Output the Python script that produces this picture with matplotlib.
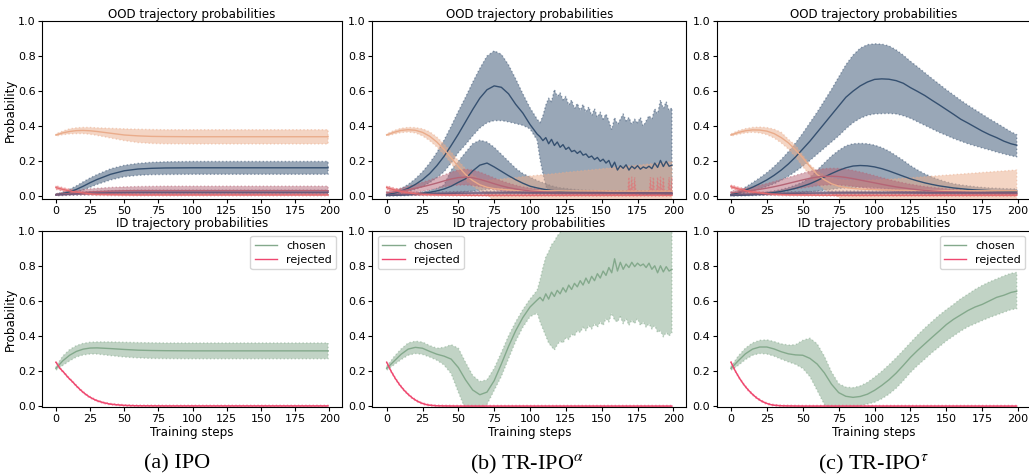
import matplotlib
matplotlib.use('Agg')
import matplotlib.pyplot as plt

plt.rcParams['font.family'] = ['DejaVu Sans']
plt.rcParams['mathtext.fontset'] = 'stix'

# ---------------- x grids (training steps) ----------------
XA = [0, 5, 10, 15, 20, 25, 30, 40, 50, 60, 70, 80, 100, 125, 150, 175, 199]
XC = [0, 5, 10, 15, 20, 25, 30, 35, 40, 45, 50, 55, 60, 65, 70, 75, 80, 85, 90, 95, 100,
      105, 110, 115, 120, 125, 130, 135, 140, 145, 150, 155, 160, 165, 170, 175, 180, 185, 190, 195, 199]
XS = [0, 5, 10, 15, 20, 25, 30, 40, 50, 60, 80, 100, 125, 150, 175, 199]
XB = [0, 5, 10, 15, 20, 25, 30, 35, 40, 45, 50, 55, 60, 65, 70, 75, 80, 85, 90, 95, 100, 105,
      107, 109, 111, 113, 115, 117, 119, 121, 123, 125, 127, 129, 131, 133, 135, 137, 139, 141, 143,
      145, 147, 149, 151, 153, 155, 157, 159, 161, 163, 165, 167, 169, 171, 173, 175, 177, 179, 181,
      183, 185, 187, 189, 191, 193, 195, 197, 199]
XR = [0, 3, 6, 9, 12, 15, 18, 21, 24, 27, 30, 35, 40, 50, 60, 80, 199]

# ---------------- (a) IPO : OOD ----------------
a_peach_mean = [0.350, 0.362, 0.370, 0.375, 0.376, 0.374, 0.370, 0.360, 0.350, 0.345, 0.342, 0.341, 0.340, 0.340, 0.340, 0.340, 0.340]
a_peach_hi = [0.356, 0.372, 0.385, 0.391, 0.393, 0.393, 0.391, 0.388, 0.385, 0.383, 0.381, 0.380, 0.380, 0.380, 0.380, 0.380, 0.380]
a_peach_lo = [0.344, 0.352, 0.356, 0.358, 0.358, 0.354, 0.348, 0.333, 0.318, 0.307, 0.302, 0.300, 0.299, 0.299, 0.299, 0.299, 0.299]
a_blue_mean = [0.010, 0.016, 0.026, 0.040, 0.058, 0.078, 0.096, 0.126, 0.146, 0.156, 0.160, 0.162, 0.163, 0.163, 0.163, 0.163, 0.163]
a_blue_hi = [0.014, 0.024, 0.040, 0.060, 0.083, 0.105, 0.124, 0.157, 0.177, 0.188, 0.194, 0.197, 0.199, 0.199, 0.199, 0.199, 0.199]
a_blue_lo = [0.006, 0.010, 0.016, 0.024, 0.036, 0.052, 0.068, 0.094, 0.112, 0.120, 0.124, 0.125, 0.126, 0.126, 0.126, 0.126, 0.126]
a_mauve_mean = [0.010, 0.013, 0.016, 0.019, 0.022, 0.025, 0.027, 0.030, 0.032, 0.033, 0.033, 0.033, 0.033, 0.033, 0.033, 0.033, 0.033]
a_mauve_hi = [0.015, 0.022, 0.028, 0.034, 0.039, 0.043, 0.046, 0.051, 0.054, 0.056, 0.057, 0.058, 0.058, 0.058, 0.058, 0.058, 0.058]
a_mauve_lo = [0.005, 0.006, 0.007, 0.008, 0.009, 0.010, 0.011, 0.012, 0.012, 0.012, 0.012, 0.012, 0.012, 0.012, 0.012, 0.012, 0.012]
a_purple_mean = [0.008, 0.010, 0.012, 0.014, 0.016, 0.018, 0.019, 0.021, 0.022, 0.023, 0.023, 0.023, 0.023, 0.023, 0.023, 0.023, 0.023]
a_purple_hi = [0.012, 0.015, 0.018, 0.021, 0.024, 0.027, 0.029, 0.032, 0.034, 0.035, 0.035, 0.035, 0.035, 0.035, 0.035, 0.035, 0.035]
a_purple_lo = [0.004, 0.005, 0.006, 0.007, 0.008, 0.009, 0.010, 0.011, 0.011, 0.011, 0.011, 0.011, 0.011, 0.011, 0.011, 0.011, 0.011]
a_red_mean = [0.050, 0.040, 0.031, 0.024, 0.019, 0.015, 0.012, 0.010, 0.009, 0.008, 0.008, 0.008, 0.008, 0.008, 0.008, 0.008, 0.008]
a_red_hi = [0.060, 0.050, 0.041, 0.033, 0.027, 0.023, 0.020, 0.017, 0.015, 0.014, 0.014, 0.014, 0.014, 0.014, 0.014, 0.014, 0.014]
a_red_lo = [0.040, 0.030, 0.021, 0.015, 0.011, 0.008, 0.005, 0.004, 0.003, 0.003, 0.003, 0.003, 0.003, 0.003, 0.003, 0.003, 0.003]

# ---------------- (a) IPO : ID ----------------
a_chosen_mean = [0.215, 0.258, 0.290, 0.312, 0.325, 0.331, 0.332, 0.328, 0.323, 0.319, 0.317, 0.316, 0.315, 0.315, 0.315, 0.315, 0.315]
a_chosen_hi = [0.225, 0.285, 0.322, 0.345, 0.358, 0.364, 0.366, 0.366, 0.364, 0.362, 0.361, 0.360, 0.360, 0.360, 0.360, 0.360, 0.360]
a_chosen_lo = [0.205, 0.232, 0.258, 0.280, 0.292, 0.297, 0.297, 0.288, 0.280, 0.275, 0.272, 0.271, 0.270, 0.270, 0.270, 0.270, 0.270]
a_rej_mean = [0.250, 0.215, 0.190, 0.163, 0.140, 0.115, 0.092, 0.072, 0.055, 0.042, 0.031, 0.019, 0.011, 0.004, 0.002, 0.001, 0.001]

# ---------------- (b) TR-IPO alpha : OOD ----------------
b_blue_mean = [0.010, 0.018, 0.030, 0.046, 0.068, 0.095, 0.130, 0.175, 0.228, 0.290, 0.355, 0.425, 0.495, 0.560, 0.608, 0.630, 0.622, 0.585, 0.525, 0.475, 0.410, 0.355,
               0.340, 0.318, 0.335, 0.300, 0.325, 0.290, 0.310, 0.280, 0.295, 0.268, 0.280, 0.255, 0.262, 0.245, 0.258, 0.235, 0.242, 0.222, 0.230,
               0.210, 0.222, 0.200, 0.212, 0.190, 0.205, 0.165, 0.195, 0.150, 0.175, 0.160, 0.180, 0.150, 0.172, 0.158, 0.175, 0.155, 0.168, 0.160,
               0.172, 0.158, 0.190, 0.165, 0.205, 0.170, 0.200, 0.172, 0.178]
b_blue_hi = [0.015, 0.026, 0.044, 0.068, 0.100, 0.140, 0.190, 0.250, 0.320, 0.400, 0.485, 0.565, 0.650, 0.730, 0.800, 0.830, 0.810, 0.750, 0.670, 0.585, 0.505, 0.440,
             0.420, 0.460, 0.520, 0.560, 0.540, 0.610, 0.570, 0.590, 0.550, 0.570, 0.520, 0.550, 0.500, 0.530, 0.490, 0.525, 0.480, 0.510, 0.460,
             0.500, 0.450, 0.480, 0.440, 0.470, 0.430, 0.380, 0.450, 0.410, 0.440, 0.470, 0.430, 0.450, 0.410, 0.440, 0.420, 0.450, 0.400, 0.430,
             0.460, 0.440, 0.500, 0.470, 0.550, 0.500, 0.540, 0.490, 0.505]
b_blue_lo = [0.005, 0.010, 0.018, 0.028, 0.040, 0.056, 0.078, 0.106, 0.140, 0.190, 0.250, 0.295, 0.345, 0.390, 0.420, 0.432, 0.432, 0.425, 0.415, 0.405, 0.385, 0.320,
             0.210, 0.130, 0.060, 0.020, 0.015, 0.015, 0.015, 0.015, 0.015, 0.015, 0.015, 0.015, 0.015, 0.015, 0.015, 0.015, 0.015, 0.015, 0.015,
             0.015, 0.015, 0.015, 0.015, 0.015, 0.015, 0.015, 0.015, 0.015, 0.015, 0.015, 0.015, 0.015, 0.015, 0.015, 0.015, 0.015, 0.015, 0.015,
             0.015, 0.015, 0.015, 0.015, 0.015, 0.015, 0.015, 0.015, 0.015]
b_blue2_mean = [0.005, 0.006, 0.008, 0.010, 0.013, 0.017, 0.023, 0.031, 0.042, 0.058, 0.080, 0.100, 0.145, 0.178, 0.190, 0.168, 0.143, 0.118, 0.095, 0.075, 0.058,
                0.048, 0.040, 0.034, 0.030, 0.027, 0.025, 0.023, 0.022, 0.021, 0.020, 0.019, 0.018, 0.018, 0.017, 0.017, 0.016, 0.016, 0.016, 0.015, 0.015]
b_blue2_hi = [0.008, 0.010, 0.013, 0.016, 0.020, 0.026, 0.034, 0.045, 0.065, 0.150, 0.200, 0.250, 0.300, 0.320, 0.310, 0.280, 0.240, 0.200, 0.160, 0.130, 0.110,
              0.090, 0.075, 0.060, 0.050, 0.045, 0.040, 0.037, 0.035, 0.033, 0.031, 0.030, 0.029, 0.028, 0.027, 0.027, 0.026, 0.026, 0.026, 0.025, 0.025]
b_blue2_lo = [0.002, 0.003, 0.004, 0.005, 0.006, 0.008, 0.010, 0.012, 0.015, 0.018, 0.020, 0.025, 0.030, 0.035, 0.040, 0.045, 0.045, 0.040, 0.035, 0.030, 0.025,
              0.022, 0.020, 0.018, 0.016, 0.015, 0.014, 0.013, 0.013, 0.012, 0.012, 0.011, 0.011, 0.010, 0.010, 0.010, 0.010, 0.009, 0.009, 0.009, 0.009]
b_peach_mean = [0.350, 0.365, 0.376, 0.380, 0.377, 0.365, 0.343, 0.310, 0.268, 0.220, 0.170, 0.125, 0.090, 0.066, 0.052, 0.044, 0.040, 0.037, 0.035, 0.034, 0.033,
                0.032, 0.032, 0.032, 0.032, 0.031, 0.031, 0.031, 0.031, 0.031, 0.031, 0.030, 0.030, 0.030, 0.030, 0.030, 0.030, 0.030, 0.030, 0.030, 0.030]
b_peach_hi = [0.356, 0.375, 0.388, 0.393, 0.392, 0.385, 0.368, 0.338, 0.298, 0.252, 0.203, 0.157, 0.120, 0.100, 0.093, 0.095, 0.099, 0.103, 0.107, 0.112, 0.116,
              0.120, 0.124, 0.128, 0.132, 0.137, 0.141, 0.145, 0.149, 0.153, 0.157, 0.161, 0.166, 0.170, 0.174, 0.178, 0.182, 0.186, 0.190, 0.195, 0.198]
b_peach_lo = [0.344, 0.355, 0.364, 0.367, 0.362, 0.345, 0.318, 0.282, 0.238, 0.188, 0.137, 0.093, 0.060, 0.032, 0.010, -0.030, -0.030, -0.030, -0.030, -0.030, -0.030,
              -0.030, -0.030, -0.030, -0.030, -0.030, -0.030, -0.030, -0.030, -0.030, -0.030, -0.030, -0.030, -0.030, -0.030, -0.030, -0.030, -0.030, -0.030, -0.030, -0.030]
b_mauve_mean = [0.020, 0.025, 0.031, 0.038, 0.046, 0.055, 0.065, 0.076, 0.088, 0.099, 0.107, 0.110, 0.106, 0.097, 0.085, 0.072, 0.060, 0.050, 0.042, 0.036, 0.031,
                0.028, 0.025, 0.023, 0.022, 0.021, 0.020, 0.020, 0.020, 0.019, 0.019, 0.019, 0.019, 0.019, 0.019, 0.019, 0.019, 0.019, 0.019, 0.019, 0.019]
b_mauve_hi = [0.030, 0.038, 0.047, 0.057, 0.068, 0.080, 0.093, 0.107, 0.122, 0.137, 0.150, 0.155, 0.150, 0.138, 0.122, 0.105, 0.089, 0.075, 0.063, 0.054, 0.047,
              0.042, 0.038, 0.035, 0.033, 0.032, 0.031, 0.030, 0.030, 0.030, 0.030, 0.030, 0.030, 0.030, 0.030, 0.030, 0.030, 0.030, 0.030, 0.030, 0.030]
b_mauve_lo = [0.010, 0.012, 0.015, 0.019, 0.024, 0.030, 0.037, 0.045, 0.054, 0.061, 0.064, 0.065, 0.062, 0.056, 0.048, 0.039, 0.031, 0.025, 0.021, 0.018, 0.015,
              0.013, 0.012, 0.011, 0.010, 0.010, 0.009, 0.009, 0.009, 0.009, 0.009, 0.009, 0.009, 0.009, 0.009, 0.009, 0.009, 0.009, 0.009, 0.009, 0.009]
b_red_x = [0, 5, 10, 15, 20, 25, 30, 40, 50, 60, 80, 100, 120, 140, 160,
           168, 169, 170, 171, 172, 173, 174,
           183, 184, 185, 186, 187, 188, 189, 190, 191, 192, 193, 194,
           196, 197, 198, 199]
b_red_mean = [0.050, 0.038, 0.028, 0.020, 0.015, 0.012, 0.010, 0.008, 0.007, 0.006, 0.006, 0.006, 0.006, 0.006, 0.006,
              0.006, 0.006, 0.006, 0.006, 0.006, 0.006, 0.006,
              0.006, 0.006, 0.006, 0.006, 0.006, 0.006, 0.006, 0.006, 0.006, 0.006, 0.006, 0.006,
              0.006, 0.006, 0.006, 0.006]
b_red_hi = [0.060, 0.048, 0.038, 0.030, 0.024, 0.020, 0.017, 0.014, 0.012, 0.011, 0.010, 0.010, 0.010, 0.010, 0.010,
            0.010, 0.110, 0.010, 0.110, 0.010, 0.110, 0.010,
            0.010, 0.110, 0.010, 0.110, 0.010, 0.010, 0.110, 0.010, 0.110, 0.010, 0.110, 0.010,
            0.010, 0.110, 0.010, 0.110]
b_red_lo = [0.040, 0.028, 0.018, 0.010, 0.006, 0.004, 0.003, 0.002, 0.002, 0.001, 0.001, 0.001, 0.001, 0.001, 0.001,
            0.001, 0.001, 0.001, 0.001, 0.001, 0.001, 0.001,
            0.001, 0.001, 0.001, 0.001, 0.001, 0.001, 0.001, 0.001, 0.001, 0.001, 0.001, 0.001,
            0.001, 0.001, 0.001, 0.001]
bc_purple_mean = [0.008, 0.009, 0.010, 0.011, 0.012, 0.013, 0.014, 0.016, 0.018, 0.019, 0.020, 0.020, 0.020, 0.020, 0.020, 0.020]
bc_purple_hi = [0.014, 0.016, 0.018, 0.020, 0.022, 0.023, 0.024, 0.026, 0.028, 0.029, 0.030, 0.030, 0.030, 0.030, 0.030, 0.030]
bc_purple_lo = [0.003, 0.004, 0.005, 0.006, 0.006, 0.007, 0.008, 0.009, 0.010, 0.011, 0.012, 0.012, 0.012, 0.012, 0.012, 0.012]

# ---------------- (b) TR-IPO alpha : ID ----------------
b_chosen_mean = [0.215, 0.255, 0.295, 0.325, 0.335, 0.330, 0.312, 0.296, 0.285, 0.268, 0.220, 0.150, 0.092, 0.065, 0.080, 0.145, 0.240, 0.340, 0.430, 0.505, 0.565, 0.605,
                 0.620, 0.600, 0.640, 0.610, 0.650, 0.625, 0.660, 0.640, 0.675, 0.650, 0.690, 0.665, 0.700, 0.680, 0.715, 0.690, 0.730, 0.700, 0.740,
                 0.715, 0.755, 0.730, 0.770, 0.745, 0.790, 0.760, 0.840, 0.770, 0.820, 0.780, 0.810, 0.790, 0.820, 0.795, 0.815, 0.800, 0.810, 0.790,
                 0.815, 0.780, 0.800, 0.760, 0.800, 0.765, 0.795, 0.770, 0.780]
b_chosen_hi = [0.225, 0.280, 0.325, 0.360, 0.370, 0.365, 0.345, 0.330, 0.335, 0.350, 0.330, 0.250, 0.175, 0.140, 0.150, 0.215, 0.305, 0.400, 0.480, 0.550, 0.610, 0.660,
               0.720, 0.790, 0.850, 0.880, 0.920, 0.940, 0.970, 0.990, 1.020, 1.050, 1.050, 1.050, 1.050, 1.050, 1.050, 1.050, 1.050, 1.050, 1.050,
               1.050, 1.050, 1.050, 1.050, 1.050, 1.050, 1.050, 1.050, 1.050, 1.050, 1.050, 1.050, 1.050, 1.050, 1.050, 1.050, 1.050, 1.050, 1.050,
               1.050, 1.050, 1.050, 1.050, 1.050, 1.050, 1.050, 1.050, 1.050]
b_chosen_lo = [0.205, 0.235, 0.265, 0.290, 0.300, 0.295, 0.280, 0.262, 0.235, 0.185, 0.080, -0.020, -0.040, -0.030, 0.010, 0.090, 0.170, 0.270, 0.370, 0.450, 0.510, 0.530,
               0.480, 0.440, 0.400, 0.360, 0.340, 0.320, 0.350, 0.370, 0.360, 0.390, 0.380, 0.410, 0.400, 0.430, 0.420, 0.450, 0.430, 0.460, 0.440,
               0.470, 0.450, 0.480, 0.460, 0.500, 0.480, 0.530, 0.490, 0.480, 0.510, 0.470, 0.500, 0.460, 0.490, 0.470, 0.500, 0.460, 0.480, 0.450,
               0.470, 0.440, 0.460, 0.420, 0.430, 0.395, 0.420, 0.400, 0.420]
bc_rej_mean = [0.250, 0.200, 0.158, 0.122, 0.092, 0.067, 0.046, 0.030, 0.018, 0.010, 0.005, 0.002, 0.001, 0.000, 0.000, 0.000, 0.000]

# ---------------- (c) TR-IPO tau : OOD ----------------
c_blue_mean = [0.010, 0.020, 0.035, 0.052, 0.072, 0.094, 0.120, 0.150, 0.185, 0.225, 0.270, 0.315, 0.365, 0.415, 0.465, 0.515, 0.565, 0.600, 0.630, 0.652, 0.667,
               0.670, 0.668, 0.660, 0.645, 0.620, 0.598, 0.575, 0.548, 0.522, 0.495, 0.468, 0.440, 0.418, 0.395, 0.372, 0.352, 0.335, 0.315, 0.300, 0.292]
c_blue_hi = [0.016, 0.030, 0.052, 0.078, 0.105, 0.135, 0.170, 0.210, 0.255, 0.305, 0.360, 0.420, 0.480, 0.545, 0.610, 0.680, 0.750, 0.805, 0.845, 0.865, 0.870,
             0.868, 0.858, 0.835, 0.805, 0.770, 0.738, 0.705, 0.672, 0.640, 0.608, 0.578, 0.548, 0.520, 0.494, 0.468, 0.442, 0.418, 0.393, 0.368, 0.352]
c_blue_lo = [0.004, 0.010, 0.020, 0.030, 0.042, 0.056, 0.072, 0.092, 0.115, 0.142, 0.172, 0.205, 0.240, 0.275, 0.310, 0.345, 0.385, 0.420, 0.445, 0.462, 0.470,
             0.472, 0.473, 0.470, 0.460, 0.445, 0.425, 0.405, 0.385, 0.365, 0.348, 0.330, 0.315, 0.300, 0.288, 0.276, 0.265, 0.253, 0.242, 0.232, 0.225]
c_blue2_mean = [0.005, 0.006, 0.008, 0.010, 0.013, 0.017, 0.022, 0.028, 0.036, 0.046, 0.058, 0.072, 0.090, 0.110, 0.130, 0.148, 0.163, 0.173, 0.176, 0.174, 0.168,
                0.158, 0.145, 0.130, 0.115, 0.100, 0.088, 0.077, 0.068, 0.060, 0.054, 0.048, 0.044, 0.040, 0.037, 0.035, 0.033, 0.031, 0.030, 0.029, 0.028]
c_blue2_hi = [0.008, 0.010, 0.013, 0.016, 0.020, 0.025, 0.031, 0.039, 0.050, 0.064, 0.082, 0.105, 0.150, 0.190, 0.230, 0.262, 0.288, 0.300, 0.302, 0.300, 0.292,
              0.278, 0.258, 0.232, 0.205, 0.175, 0.150, 0.128, 0.110, 0.095, 0.082, 0.072, 0.065, 0.060, 0.055, 0.051, 0.048, 0.046, 0.044, 0.043, 0.042]
c_blue2_lo = [0.002, 0.003, 0.004, 0.005, 0.006, 0.008, 0.010, 0.012, 0.015, 0.018, 0.022, 0.026, 0.030, 0.035, 0.040, 0.045, 0.048, 0.050, 0.052, 0.052, 0.050,
              0.046, 0.042, 0.038, 0.034, 0.030, 0.027, 0.024, 0.022, 0.020, 0.018, 0.017, 0.016, 0.015, 0.014, 0.014, 0.013, 0.013, 0.013, 0.012, 0.012]
c_peach_mean = [0.350, 0.364, 0.374, 0.379, 0.378, 0.372, 0.358, 0.335, 0.305, 0.265, 0.220, 0.170, 0.125, 0.095, 0.072, 0.058, 0.050, 0.045, 0.042, 0.040, 0.038,
                0.037, 0.036, 0.035, 0.035, 0.034, 0.034, 0.034, 0.033, 0.033, 0.033, 0.033, 0.033, 0.032, 0.032, 0.032, 0.032, 0.032, 0.032, 0.032, 0.032]
c_peach_hi = [0.356, 0.374, 0.386, 0.393, 0.395, 0.392, 0.383, 0.365, 0.325, 0.290, 0.235, 0.180, 0.145, 0.120, 0.105, 0.097, 0.093, 0.092, 0.092, 0.093, 0.094,
              0.096, 0.098, 0.100, 0.103, 0.106, 0.109, 0.112, 0.115, 0.118, 0.121, 0.124, 0.127, 0.130, 0.133, 0.136, 0.139, 0.142, 0.145, 0.148, 0.150]
c_peach_lo = [0.344, 0.354, 0.362, 0.366, 0.362, 0.352, 0.333, 0.305, 0.270, 0.225, 0.170, 0.120, 0.075, 0.040, 0.015, -0.005, -0.030, -0.030, -0.030, -0.030, -0.030,
              -0.030, -0.030, -0.030, -0.030, -0.030, -0.030, -0.030, -0.030, -0.030, -0.030, -0.030, -0.030, -0.030, -0.030, -0.030, -0.030, -0.030, -0.030, -0.030, -0.030]
c_mauve_mean = [0.020, 0.024, 0.029, 0.034, 0.040, 0.047, 0.055, 0.064, 0.074, 0.084, 0.094, 0.103, 0.110, 0.114, 0.115, 0.113, 0.108, 0.101, 0.093, 0.085, 0.077,
                0.069, 0.061, 0.054, 0.048, 0.043, 0.038, 0.034, 0.031, 0.028, 0.026, 0.024, 0.023, 0.022, 0.021, 0.020, 0.020, 0.019, 0.019, 0.019, 0.019]
c_mauve_hi = [0.030, 0.037, 0.045, 0.054, 0.063, 0.073, 0.084, 0.096, 0.108, 0.120, 0.132, 0.143, 0.152, 0.158, 0.160, 0.159, 0.155, 0.148, 0.139, 0.129, 0.118,
              0.107, 0.096, 0.086, 0.077, 0.069, 0.062, 0.056, 0.051, 0.047, 0.043, 0.040, 0.038, 0.036, 0.034, 0.033, 0.032, 0.031, 0.030, 0.030, 0.030]
c_mauve_lo = [0.010, 0.012, 0.014, 0.016, 0.019, 0.022, 0.026, 0.031, 0.036, 0.042, 0.048, 0.054, 0.060, 0.064, 0.066, 0.065, 0.062, 0.057, 0.051, 0.045, 0.040,
              0.035, 0.030, 0.026, 0.022, 0.019, 0.016, 0.014, 0.012, 0.011, 0.010, 0.009, 0.009, 0.008, 0.008, 0.008, 0.008, 0.008, 0.008, 0.008, 0.008]
c_red_mean = [0.055, 0.043, 0.033, 0.025, 0.019, 0.015, 0.012, 0.009, 0.008, 0.007, 0.006, 0.006, 0.006, 0.006, 0.006, 0.006]
c_red_hi = [0.065, 0.053, 0.043, 0.034, 0.027, 0.022, 0.019, 0.015, 0.013, 0.012, 0.011, 0.011, 0.011, 0.011, 0.011, 0.011]
c_red_lo = [0.045, 0.033, 0.023, 0.016, 0.011, 0.008, 0.005, 0.003, 0.002, 0.002, 0.001, 0.001, 0.001, 0.001, 0.001, 0.001]

# ---------------- (c) TR-IPO tau : ID ----------------
c_chosen_mean = [0.215, 0.258, 0.298, 0.325, 0.337, 0.337, 0.326, 0.310, 0.298, 0.292, 0.290, 0.272, 0.240, 0.190, 0.125, 0.077, 0.056, 0.050, 0.055, 0.068, 0.090,
                 0.118, 0.150, 0.188, 0.232, 0.278, 0.318, 0.355, 0.392, 0.428, 0.465, 0.495, 0.520, 0.545, 0.565, 0.580, 0.600, 0.620, 0.632, 0.648, 0.655]
c_chosen_hi = [0.225, 0.285, 0.330, 0.360, 0.375, 0.378, 0.368, 0.355, 0.348, 0.350, 0.375, 0.387, 0.355, 0.285, 0.195, 0.128, 0.108, 0.105, 0.115, 0.135, 0.165,
               0.198, 0.235, 0.275, 0.318, 0.362, 0.405, 0.445, 0.482, 0.518, 0.550, 0.580, 0.612, 0.638, 0.665, 0.688, 0.708, 0.725, 0.742, 0.757, 0.762]
c_chosen_lo = [0.205, 0.232, 0.265, 0.290, 0.300, 0.297, 0.285, 0.268, 0.252, 0.238, 0.215, 0.168, 0.090, 0.010, -0.030, -0.040, -0.040, -0.020, 0.002, 0.012, 0.022,
               0.042, 0.068, 0.102, 0.145, 0.192, 0.232, 0.268, 0.305, 0.338, 0.372, 0.400, 0.428, 0.452, 0.470, 0.488, 0.505, 0.520, 0.535, 0.550, 0.555]

# ---------------- labels ----------------
x_ticks = [0, 25, 50, 75, 100, 125, 150, 175, 200]
y_ticks = [0.0, 0.2, 0.4, 0.6, 0.8, 1.0]
captions = ['(a) IPO', r'(b) TR-IPO$^{\alpha}$', r'(c) TR-IPO$^{\tau}$']
legend_labels = ['chosen', 'rejected']

C_BLUE = '#355070'
C_PURPLE = '#6d597a'
C_MAUVE = '#b56576'
C_RED = '#e56b6f'
C_PEACH = '#eaac8b'
C_CHOSEN = '#84a98c'
C_REJ = '#ef476f'

W, H = 1029.0, 476.0
fig = plt.figure(figsize=(W / 100, H / 100), dpi=100)

col_x = [(42.3, 341.7), (372.4, 686.2), (716.7, 1031.0)]
top_y = (21.0, 199.0)
bot_y = (230.7, 407.0)


def make_ax(xs, ys):
    return fig.add_axes([xs[0] / W, 1 - ys[1] / H, (xs[1] - xs[0]) / W, (ys[1] - ys[0]) / H])


def band(ax, x, mean, lo, hi, color, label=None, lw=1.0):
    ax.fill_between(x, lo, hi, facecolor=color, edgecolor=color, alpha=0.5,
                    linestyle=':', linewidth=1.0)
    ax.plot(x, mean, color=color, lw=lw, label=label)


def style(ax, title, ylims, left, bottom):
    ax.set_xlim(-9.95, 208.95)
    ax.set_ylim(*ylims)
    ax.set_xticks(x_ticks)
    ax.set_yticks(y_ticks)
    ax.set_yticklabels(['%.1f' % v for v in y_ticks])
    ax.tick_params(labelsize=8, length=3, pad=1.8, width=0.8)
    ax.set_title(title, fontsize=8.6, pad=2.5)
    if left:
        ax.set_ylabel('Probability', fontsize=8.6, labelpad=0.5)
    if bottom:
        ax.set_xlabel('Training steps', fontsize=8.6, labelpad=1.5)


# ---- top row ----
axa = make_ax(col_x[0], top_y)
band(axa, XA, a_blue_mean, a_blue_lo, a_blue_hi, C_BLUE)
band(axa, XA, a_peach_mean, a_peach_lo, a_peach_hi, C_PEACH)
band(axa, XA, a_mauve_mean, a_mauve_lo, a_mauve_hi, C_MAUVE)
band(axa, XA, a_purple_mean, a_purple_lo, a_purple_hi, C_PURPLE)
band(axa, XA, a_red_mean, a_red_lo, a_red_hi, C_RED)
style(axa, 'OOD trajectory probabilities', (-0.015, 1.0), True, False)

axb = make_ax(col_x[1], top_y)
band(axb, XB, b_blue_mean, b_blue_lo, b_blue_hi, C_BLUE)
band(axb, XC, b_blue2_mean, b_blue2_lo, b_blue2_hi, C_BLUE)
band(axb, XC, b_peach_mean, b_peach_lo, b_peach_hi, C_PEACH)
band(axb, XC, b_mauve_mean, b_mauve_lo, b_mauve_hi, C_MAUVE)
band(axb, XS, bc_purple_mean, bc_purple_lo, bc_purple_hi, C_PURPLE)
band(axb, b_red_x, b_red_mean, b_red_lo, b_red_hi, C_RED)
style(axb, 'OOD trajectory probabilities', (-0.015, 1.0), False, False)

axc = make_ax(col_x[2], top_y)
band(axc, XC, c_blue_mean, c_blue_lo, c_blue_hi, C_BLUE)
band(axc, XC, c_blue2_mean, c_blue2_lo, c_blue2_hi, C_BLUE)
band(axc, XC, c_peach_mean, c_peach_lo, c_peach_hi, C_PEACH)
band(axc, XC, c_mauve_mean, c_mauve_lo, c_mauve_hi, C_MAUVE)
band(axc, XS, bc_purple_mean, bc_purple_lo, bc_purple_hi, C_PURPLE)
band(axc, XS, c_red_mean, c_red_lo, c_red_hi, C_RED)
style(axc, 'OOD trajectory probabilities', (-0.015, 1.0), False, False)

# ---- bottom row ----
rej_w = 0.004
axd = make_ax(col_x[0], bot_y)
band(axd, XA, a_chosen_mean, a_chosen_lo, a_chosen_hi, C_CHOSEN, legend_labels[0])
band(axd, XR, a_rej_mean, [v - rej_w for v in a_rej_mean], [v + rej_w for v in a_rej_mean], C_REJ, legend_labels[1])
style(axd, 'ID trajectory probabilities', (-0.005, 1.0), True, True)
axd.legend(loc='upper right', fontsize=8, handlelength=2.0, borderpad=0.4, labelspacing=0.35)

axe = make_ax(col_x[1], bot_y)
band(axe, XB, b_chosen_mean, b_chosen_lo, b_chosen_hi, C_CHOSEN, legend_labels[0])
band(axe, XR, bc_rej_mean, [v - rej_w for v in bc_rej_mean], [v + rej_w for v in bc_rej_mean], C_REJ, legend_labels[1])
style(axe, 'ID trajectory probabilities', (-0.005, 1.0), False, True)
axe.legend(loc='upper left', fontsize=8, handlelength=2.0, borderpad=0.4, labelspacing=0.35)

axf = make_ax(col_x[2], bot_y)
band(axf, XC, c_chosen_mean, c_chosen_lo, c_chosen_hi, C_CHOSEN, legend_labels[0])
band(axf, XR, bc_rej_mean, [v - rej_w for v in bc_rej_mean], [v + rej_w for v in bc_rej_mean], C_REJ, legend_labels[1])
style(axf, 'ID trajectory probabilities', (-0.005, 1.0), False, True)
axf.legend(loc='upper right', fontsize=8, handlelength=2.0, borderpad=0.4, labelspacing=0.35)

# ---- captions ----
cap_x = [177, 527, 873]
for cx, cap in zip(cap_x, captions):
    fig.text(cx / W, 1 - 464 / H, cap, ha='center', va='center', fontsize=16,
             family=['Liberation Serif', 'DejaVu Serif'])

fig.savefig('out.png', dpi=100)
